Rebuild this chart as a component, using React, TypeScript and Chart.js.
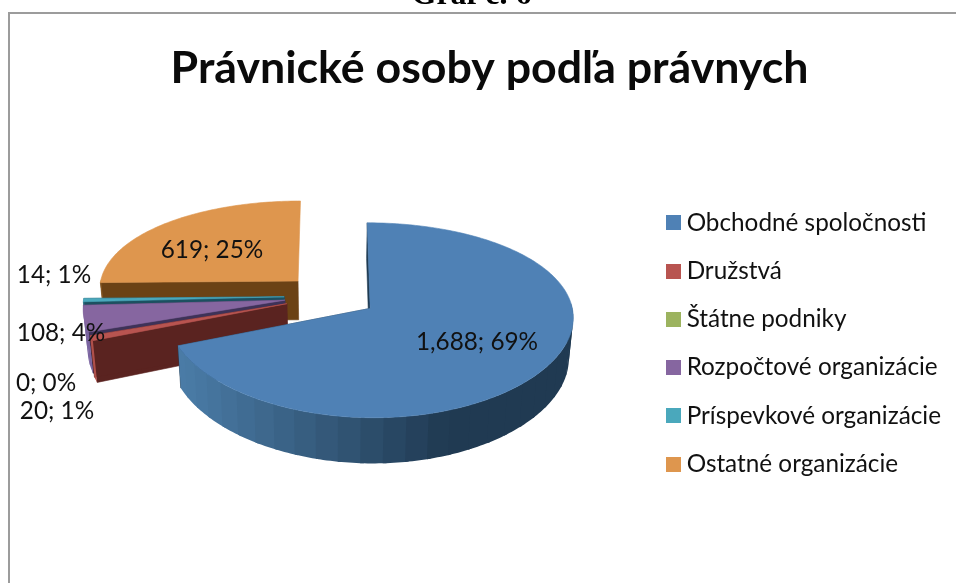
import React, { useEffect, useRef } from "react";
import { Chart, registerables } from "chart.js";

Chart.register(...registerables);

const chartTitle = "Právnické osoby podľa právnych";
const caption = "Graf č. 6";
const categories = [
  "Obchodné spoločnosti",
  "Družstvá",
  "Štátne podniky",
  "Rozpočtové organizácie",
  "Príspevkové organizácie",
  "Ostatné organizácie",
];
const counts = [1688, 20, 0, 108, 14, 619];
const topColors = ["#4f81b5", "#b85450", "#9cb35f", "#8666a0", "#4aa8bc", "#de964e"];
const wallColors = ["#1f3a52", "#5a2320", "#4c5a2a", "#3e3258", "#1c5060", "#6b4215"];
const rimLight = ["#4a7ba6", "#b0504a", "#8aa050", "#7a64a0", "#2d7f93", "#8a5a22"];
const rimDark = ["#203a52", "#b0504a", "#8aa050", "#7a64a0", "#2d7f93", "#8a5a22"];
const paintOrder = [5, 4, 3, 2, 1, 0];
const labelAnchors = [
  [477, 342],
  [57, 411],
  [46, 383],
  [61, 333],
  [54, 275],
  [212, 250],
];

const FONT = "Lato, 'Open Sans', sans-serif";
const LABEL_SIZE = 24.3;
const PROJ = { x0: 331, y0: 296, a: 93, b: 200, px: 0.08, py: 0.12, depth: 39.5, shrink: 0.982 };

const hexToRgb = (h: string) => [1, 3, 5].map((i) => parseInt(h.slice(i, i + 2), 16));
const mix = (c1: string, c2: string, t: number) => {
  const a = hexToRgb(c1);
  const b = hexToRgb(c2);
  return `rgb(${a.map((v, i) => Math.round(v + (b[i] - v) * t)).join(",")})`;
};

const pieProjection = {
  id: "pieProjection",
  beforeDraw(chart: any) {
    const { ctx, width, height } = chart;
    ctx.save();
    ctx.fillStyle = "#ffffff";
    ctx.fillRect(0, 0, width, height);
    ctx.fillStyle = "#9c9c9c";
    ctx.fillRect(8, 12, width - 8, 2);
    ctx.fillRect(8, 12, 2, height - 12);
    ctx.restore();
  },
  beforeDatasetDraw(chart: any, args: any) {
    const { ctx } = chart;
    const meta = args.meta;
    const top = (u: number, v: number) => [
      PROJ.x0 + (PROJ.b * u) / (1 - PROJ.px * v),
      PROJ.y0 + (PROJ.a * v) / (1 - PROJ.py * v),
    ];
    const low = (u: number, v: number) => {
      const [x, y] = top(u, v);
      return [PROJ.x0 + (x - PROJ.x0) * PROJ.shrink, y + PROJ.depth / (1 - PROJ.py * v)];
    };
    const poly = (pts: number[][], fill: string, edge = 0.6) => {
      ctx.beginPath();
      pts.forEach((p, i) => (i ? ctx.lineTo(p[0], p[1]) : ctx.moveTo(p[0], p[1])));
      ctx.closePath();
      ctx.fillStyle = fill;
      ctx.fill();
      if (edge > 0) {
        ctx.strokeStyle = fill;
        ctx.lineWidth = edge;
        ctx.stroke();
      }
    };
    ctx.save();
    paintOrder.forEach((i) => {
      const el = meta.data[i];
      const { startAngle, endAngle, outerRadius } = el.getProps(
        ["startAngle", "endAngle", "outerRadius"],
        true
      );
      const sweep = endAngle - startAngle;
      if (sweep <= 0) return;
      const mid = (startAngle + endAngle) / 2;
      const shift = el.options.offset / outerRadius;
      const cu = Math.cos(mid) * shift;
      const cv = Math.sin(mid) * shift;
      const steps = Math.max(2, Math.ceil(sweep / (Math.PI / 180)));
      const rim: number[][] = [];
      const angle: number[] = [];
      for (let s = 0; s <= steps; s++) {
        const t = startAngle + (sweep * s) / steps;
        angle.push(t);
        rim.push([cu + Math.cos(t), cv + Math.sin(t)]);
      }
      const first = rim[0];
      const last = rim[rim.length - 1];
      // radial walls (a far edge left of the vanishing axis stays hidden)
      [first, last].forEach((p) => {
        if (cu < 0 && p[1] < cv - 0.5) return;
        poly([top(cu, cv), top(p[0], p[1]), low(p[0], p[1]), low(cu, cv)], wallColors[i]);
      });
      // outer wall, in shaded bands that overlap the next one; only the near side shows
      const bandLen = 6;
      const n = rim.length - 1;
      for (let s = n; s > 0; s -= bandLen) {
        const b = Math.max(0, s - bandLen);
        if (Math.sin((angle[b] + angle[s]) / 2) < -0.02) continue;
        const seg = rim.slice(b, Math.min(s + 1, n) + 1);
        const xMid = top(rim[s][0], rim[s][1])[0];
        const t = Math.min(1, Math.max(0, (xMid - 180) / 260));
        poly(
          [...seg.map((p) => top(p[0], p[1])), ...[...seg].reverse().map((p) => low(p[0], p[1]))],
          mix(rimLight[i], rimDark[i], t),
          0
        );
      }
      // top face
      poly([top(cu, cv), ...rim.map((p) => top(p[0], p[1]))], topColors[i]);
    });
    ctx.restore();
    return false;
  },
  afterDatasetsDraw(chart: any) {
    const { ctx } = chart;
    const total = counts.reduce((a, b) => a + b, 0);
    ctx.save();
    ctx.font = `${LABEL_SIZE}px ${FONT}`;
    ctx.fillStyle = "#111111";
    ctx.textAlign = "center";
    ctx.textBaseline = "middle";
    counts.forEach((v, i) => {
      const text = `${v.toLocaleString("en-US")}; ${Math.round((v / total) * 100)}%`;
      ctx.fillText(text, labelAnchors[i][0], labelAnchors[i][1]);
    });
    ctx.restore();
  },
};

export default function App() {
  const ref = useRef<HTMLCanvasElement>(null);
  useEffect(() => {
    document.body.style.margin = "0";
    document.body.style.overflow = "hidden";
    const swatches = topColors.map((c) => {
      const s = document.createElement("canvas");
      s.width = 15;
      s.height = 15;
      const g = s.getContext("2d")!;
      g.fillStyle = c;
      g.fillRect(0, 0, 15, 15);
      return s;
    });
    const chart = new Chart(ref.current!, {
      type: "pie",
      data: {
        labels: categories,
        datasets: [
          {
            data: counts,
            backgroundColor: topColors,
            borderWidth: 0,
            offset: 46.8,
            radius: 200,
          } as any,
        ],
      },
      plugins: [pieProjection],
      options: {
        responsive: false,
        animation: false,
        events: [],
        layout: { padding: { left: 28, right: 5, top: 0, bottom: -104 } },
        plugins: {
          tooltip: { enabled: false },
          title: {
            display: true,
            text: chartTitle,
            color: "#0a0a0a",
            font: { family: FONT, size: 44.7, weight: "bold" },
            padding: { top: 42, bottom: 20 },
          },
          legend: {
            position: "right",
            labels: {
              usePointStyle: true,
              boxWidth: 1,
              boxHeight: 15,
              padding: 24,
              color: "#111111",
              font: { family: FONT, size: LABEL_SIZE },
              generateLabels: () =>
                categories.map((text, i) => ({
                  text,
                  fillStyle: topColors[i],
                  strokeStyle: topColors[i],
                  lineWidth: 0,
                  pointStyle: swatches[i],
                  hidden: false,
                  index: i,
                  fontColor: "#111111",
                })),
            },
          },
        },
      } as any,
    });
    return () => chart.destroy();
  }, []);
  return (
    <div style={{ position: "relative", width: 956, height: 583, overflow: "hidden" }}>
      <canvas ref={ref} width={956} height={583} style={{ display: "block" }} />
      <div
        style={{
          position: "absolute",
          left: 0,
          right: 13,
          top: -27,
          textAlign: "center",
          font: "bold 32px 'Liberation Serif', serif",
          color: "#000",
          lineHeight: "40px",
        }}
      >
        {caption}
      </div>
    </div>
  );
}
